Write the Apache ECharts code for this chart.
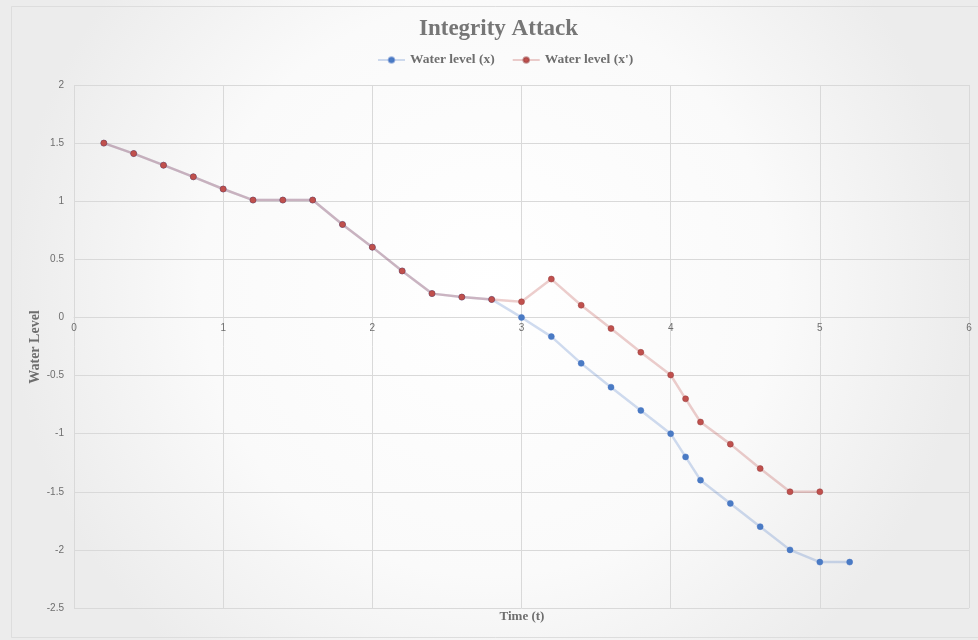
<!DOCTYPE html>
<html>
<head>
<meta charset="utf-8">
<script src="https://cdn.jsdelivr.net/npm/echarts@6/dist/echarts.min.js"></script>
<style>html,body{margin:0;padding:0;background:#fff;}#c{width:978px;height:640px;}</style>
</head>
<body>
<div id="c"></div>
<script>
const times = [0.2,0.4,0.6,0.8,1.0,1.2,1.4,1.6,1.8,2.0,2.2,2.4,2.6,2.8,3.0,3.2,3.4,3.6,3.8,4.0,4.1,4.2,4.4,4.6,4.8,5.0,5.2];
const waterX = [1.5,1.41,1.31,1.21,1.105,1.01,1.01,1.01,0.80,0.605,0.40,0.205,0.175,0.155,0.0,-0.165,-0.395,-0.60,-0.80,-1.0,-1.2,-1.4,-1.6,-1.8,-2.0,-2.105,-2.105];
const timesAttack = [0.2,0.4,0.6,0.8,1.0,1.2,1.4,1.6,1.8,2.0,2.2,2.4,2.6,2.8,3.0,3.2,3.4,3.6,3.8,4.0,4.1,4.2,4.4,4.6,4.8,5.0];
const waterXp = [1.5,1.41,1.31,1.21,1.105,1.01,1.01,1.01,0.80,0.605,0.40,0.205,0.175,0.155,0.135,0.33,0.105,-0.095,-0.30,-0.495,-0.70,-0.90,-1.09,-1.30,-1.50,-1.50];
const xTicks = [0,1,2,3,4,5,6];
const yTicks = [-2.5,-2,-1.5,-1,-0.5,0,0.5,1,1.5,2];

const W = 978, H = 640;
const gridTop = 85, gridBottom = 32;
const yMin = yTicks[0], yMax = yTicks[yTicks.length-1];
const plotH = H - gridTop - gridBottom;
const zeroOffset = -plotH * (0 - yMin) / (yMax - yMin);

const chart = echarts.init(document.getElementById('c'), null, {renderer:'canvas'});
const serif = '"Liberation Serif","DejaVu Serif",serif';
const sans = '"Liberation Sans","Open Sans",sans-serif';
chart.setOption({
  animation:false,
  backgroundColor:{type:'radial',x:0.5,y:0.45,r:0.75,colorStops:[{offset:0,color:'#ffffff'},{offset:0.6,color:'#fafafa'},{offset:1,color:'#ececec'}]},
  title:{text:'Integrity Attack',left:414,top:13,textStyle:{fontFamily:serif,fontWeight:'bold',fontSize:23,color:'#767676'}},
  legend:{top:48,left:372,itemGap:17,itemWidth:27,itemHeight:7,textStyle:{fontFamily:serif,fontWeight:'bold',fontSize:13.5,color:'#6e6e6e'},
    data:['Water level (x)',"Water level (x')"]},
  graphic:[
    {type:'rect',left:9,top:4,shape:{width:980,height:631},style:{fill:'none',stroke:'#dddddd',lineWidth:1},silent:true,z:-1},
    {type:'text',x:522,y:617,style:{text:'Time (t)',font:'bold 13px '+serif,fill:'#6e6e6e',textAlign:'center',textVerticalAlign:'middle'}},
    {type:'text',x:35,y:347,rotation:Math.PI/2,style:{text:'Water Level',font:'bold 14px '+serif,fill:'#6e6e6e',textAlign:'center',textVerticalAlign:'middle'}}
  ],
  grid:{left:74,right:9,top:gridTop,bottom:gridBottom},
  xAxis:{type:'value',min:xTicks[0],max:xTicks[xTicks.length-1],interval:1,offset:zeroOffset,
    axisLine:{show:true,onZero:false,lineStyle:{color:'#d9d9d9',width:1}},
    axisTick:{show:false},
    splitLine:{show:true,lineStyle:{color:'#d9d9d9',width:1}},
    axisLabel:{fontFamily:sans,fontSize:10,color:'#6e6e6e',margin:6,formatter:v=>String(v)}},
  yAxis:{type:'value',min:yMin,max:yMax,interval:0.5,
    axisLine:{show:false,onZero:false},axisTick:{show:false},
    splitLine:{show:true,lineStyle:{color:'#d9d9d9',width:1}},
    axisLabel:{fontFamily:sans,fontSize:10,color:'#6e6e6e',margin:10,formatter:v=>String(v)}},
  series:[
    {name:'Water level (x)',type:'line',data:times.map((t,i)=>[t,waterX[i]]),
      symbol:'circle',symbolSize:6,
      lineStyle:{color:'rgba(68,114,196,0.25)',width:2.5},
      itemStyle:{color:'#4a7bc4',borderColor:'rgba(68,114,196,0.5)',borderWidth:1}},
    {name:"Water level (x')",type:'line',data:timesAttack.map((t,i)=>[t,waterXp[i]]),
      symbol:'circle',symbolSize:6,
      lineStyle:{color:'rgba(192,80,77,0.28)',width:2.5},
      itemStyle:{color:'#c0504d',borderColor:'rgba(150,60,60,0.5)',borderWidth:1}}
  ]
});
</script>
</body>
</html>
